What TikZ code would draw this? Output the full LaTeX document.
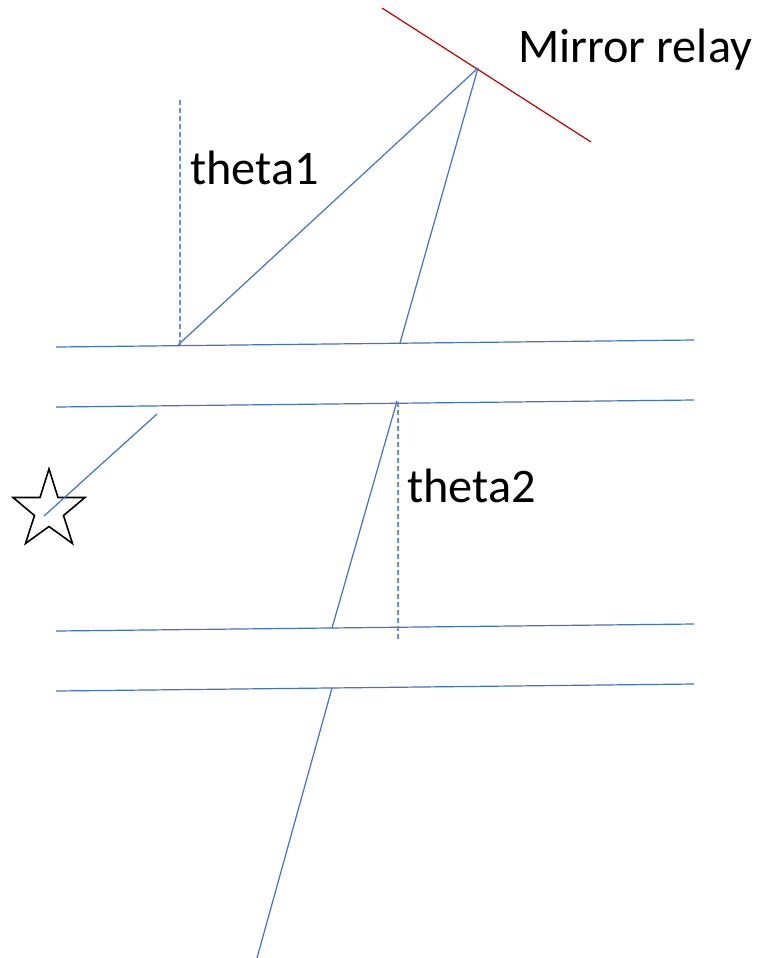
\documentclass[tikz,border=0pt]{standalone}
\usepackage{fontspec}
\setmainfont{Carlito}
\definecolor{raycolor}{RGB}{68,114,196}
\definecolor{mirrorcolor}{RGB}{192,0,0}
\tikzset{
  ray/.style={draw=raycolor,line width=0.9pt},
  normalline/.style={draw=raycolor!80,line width=0.9pt,dash pattern=on 3.5pt off 2.5pt},
  mirror/.style={draw=mirrorcolor,line width=0.9pt},
  lbl/.style={font=\fontsize{36.2}{42}\selectfont,text=black,inner sep=0pt,anchor=base west}
}
\begin{document}
\begin{tikzpicture}[x=0.75pt,y=0.75pt,yscale=-1,xscale=1]
\useasboundingbox (0,0) rectangle (758,958);
%Mirror
\coordinate (mirrorA) at (382,8);
\coordinate (mirrorB) at (591,142);
\draw[mirror] (mirrorA) -- (mirrorB);
%Slab surfaces
\coordinate (slabAl) at (56,347);
\coordinate (slabAr) at (694,340);
\coordinate (slabBl) at (56,407);
\coordinate (slabBr) at (694,400);
\coordinate (slabCl) at (56,631);
\coordinate (slabCr) at (694,624);
\coordinate (slabDl) at (56,691);
\coordinate (slabDr) at (694,684);
\draw[ray] (slabAl) -- (slabAr);
\draw[ray] (slabBl) -- (slabBr);
\draw[ray] (slabCl) -- (slabCr);
\draw[ray] (slabDl) -- (slabDr);
%Rays
\coordinate (hitA) at (178,345);
\coordinate (hitM) at (478,68);
\coordinate (hitB) at (400,343);
\coordinate (hitC) at (397,401);
\coordinate (hitD) at (332,628);
\coordinate (hitE) at (332,688);
\coordinate (rayEnd) at (257,958);
\coordinate (srcA) at (157,414);
\coordinate (srcB) at (44,516);
\draw[ray] (hitA) -- (hitM);
\draw[ray] (hitM) -- (hitB);
\draw[ray] (hitC) -- (hitD);
\draw[ray] (hitE) -- (rayEnd);
%Normals
\coordinate (normA) at (180,100);
\coordinate (normB) at (180,345);
\coordinate (normC) at (398,402);
\coordinate (normD) at (398,639);
\draw[normalline] (normA) -- (normB);
\draw[normalline] (normC) -- (normD);
%Star
\draw[black,line width=1.2pt,miter limit=10] (49,469) -- (58,497.5) -- (85,497.5) -- (63.5,515.5) -- (72.5,543.5) -- (49,526.5) -- (25.5,543.5) -- (34.5,515.5) -- (13,497.5) -- (40,497.5) -- cycle;
\draw[ray] (srcA) -- (srcB);
%Labels
\node[lbl] (labMirror) at (518,62) {Mirror relay};
\node[lbl] (labThetaA) at (190,184) {theta1};
\node[lbl] (labThetaB) at (407,502) {theta2};
\end{tikzpicture}
\end{document}
